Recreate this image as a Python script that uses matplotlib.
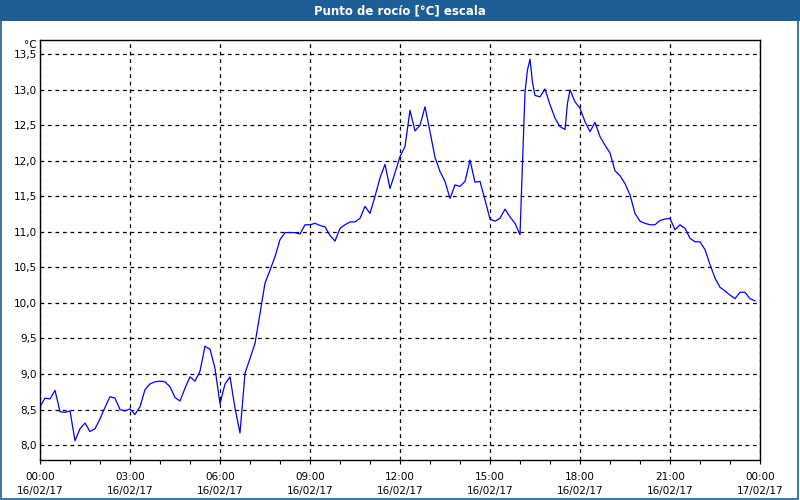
import matplotlib
matplotlib.use("Agg")
import matplotlib.pyplot as plt
from matplotlib.patches import Rectangle
from matplotlib.ticker import MultipleLocator, FuncFormatter
import numpy as np

# minutos desde las 00:00 del 16/02/17 y punto de rocío en °C
minutos = [0, 10, 20, 30, 40, 50, 60, 70, 80, 90, 100, 110, 120, 130, 140, 150,
           160, 170, 180, 190, 200, 210, 220, 230, 240, 250, 260, 270, 280, 290,
           300, 310, 320, 330, 340, 350, 360, 370, 380, 390, 400, 410, 420, 430,
           440, 450, 460, 470, 480, 490, 500, 510, 520, 530, 540, 550, 560, 570,
           580, 590, 600, 610, 620, 630, 640, 650, 660, 670, 680, 690, 700, 710,
           720, 730, 740, 750, 760, 770, 780, 790, 800, 810, 820, 830, 840, 850,
           860, 870, 880, 890, 900, 910, 920, 930, 940, 950, 960, 970, 975, 980,
           985, 990, 1000, 1010, 1020, 1030, 1040, 1050, 1055, 1060, 1070, 1080,
           1090, 1100, 1110, 1120, 1130, 1140, 1150, 1160, 1170, 1180, 1190, 1200,
           1210, 1220, 1230, 1240, 1250, 1260, 1270, 1280, 1290, 1300, 1310, 1320,
           1330, 1340, 1350, 1360, 1370, 1380, 1390, 1400, 1410, 1420, 1430]
rocio = [8.54, 8.66, 8.65, 8.77, 8.47, 8.46, 8.48, 8.06, 8.23, 8.31, 8.19, 8.23,
         8.37, 8.53, 8.68, 8.66, 8.50, 8.48, 8.51, 8.43, 8.54, 8.78, 8.86, 8.89,
         8.90, 8.89, 8.82, 8.67, 8.62, 8.80, 8.96, 8.90, 9.04, 9.39, 9.35, 9.08,
         8.58, 8.86, 8.96, 8.52, 8.17, 9.01, 9.22, 9.43, 9.85, 10.28, 10.46, 10.65,
         10.89, 10.99, 10.99, 10.99, 10.97, 11.10, 11.10, 11.12, 11.09, 11.07,
         10.95, 10.87, 11.05, 11.10, 11.14, 11.14, 11.19, 11.36, 11.26, 11.50,
         11.76, 11.95, 11.61, 11.83, 12.06, 12.20, 12.71, 12.42, 12.50, 12.76,
         12.41, 12.05, 11.85, 11.71, 11.47, 11.66, 11.64, 11.71, 12.01, 11.70,
         11.71, 11.45, 11.18, 11.15, 11.19, 11.32, 11.21, 11.12, 10.96, 12.97,
         13.28, 13.43, 13.10, 12.92, 12.90, 13.01, 12.79, 12.60, 12.48, 12.44,
         12.81, 13.00, 12.83, 12.74, 12.55, 12.41, 12.54, 12.34, 12.22, 12.11,
         11.86, 11.79, 11.68, 11.52, 11.26, 11.15, 11.12, 11.10, 11.10, 11.16,
         11.18, 11.19, 11.03, 11.10, 11.05, 10.91, 10.86, 10.86, 10.75, 10.54,
         10.35, 10.22, 10.17, 10.11, 10.06, 10.15, 10.15, 10.06, 10.03]

etiquetas_x = ["00:00\n16/02/17", "03:00\n16/02/17", "06:00\n16/02/17",
               "09:00\n16/02/17", "12:00\n16/02/17", "15:00\n16/02/17",
               "18:00\n16/02/17", "21:00\n16/02/17", "00:00\n17/02/17"]
titulo = "Punto de rocío [°C] escala"

azul_barra = "#1d5e96"

fig = plt.figure(figsize=(8, 5), dpi=100)
fig.patch.set_facecolor("white")

# barra del titulo y borde de la ventana
fig.patches.append(Rectangle((0, 0.958), 1, 0.042, transform=fig.transFigure,
                             facecolor=azul_barra, edgecolor="none", zorder=0))
fig.patches.append(Rectangle((0.001, 0.002), 0.997, 0.996, transform=fig.transFigure,
                             facecolor="none", edgecolor=azul_barra, lw=1.2, zorder=0))
fig.text(0.5, 0.979, titulo, color="white", fontsize=8.5, fontweight="bold",
         ha="center", va="center")

ax = fig.add_axes([0.05, 0.08, 0.90, 0.84])
horas = np.array(minutos) / 60.0
ax.plot(horas, rocio, color="#0000ff", lw=0.9)

ax.set_xlim(0, 24)
ax.set_ylim(7.79, 13.70)

# eje x: cada 3 horas con marcas menores cada hora
ax.set_xticks(np.arange(0, 25, 3))
ax.set_xticklabels(etiquetas_x, fontsize=7.5, linespacing=1.45)
ax.xaxis.set_minor_locator(MultipleLocator(1))
ax.tick_params(axis="x", which="both", direction="out", length=3, width=0.8, pad=6)

ax.yaxis.set_major_locator(MultipleLocator(0.5))
ax.yaxis.set_major_formatter(FuncFormatter(lambda v, p: f"{v:.1f}".replace(".", ",")))
ax.tick_params(axis="y", length=0, labelsize=7.5, pad=2)

ax.grid(True, which="major", color="black", linestyle=(0, (3, 3)), lw=0.9)
for s in ax.spines.values():
    s.set_color("black")
    s.set_linewidth(1.0)

ax.text(-0.005, 1.0, "°C", transform=ax.transAxes, fontsize=7.5,
        ha="right", va="top")

fig.savefig("out.png", dpi=100)
